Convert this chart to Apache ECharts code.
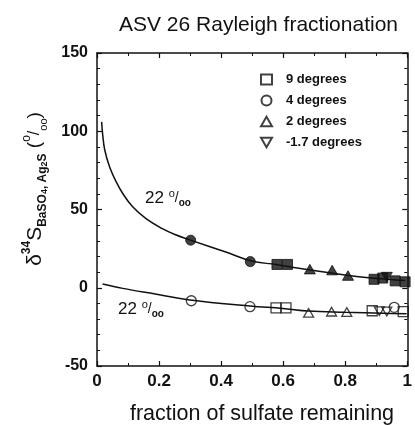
<!DOCTYPE html>
<html><head><meta charset="utf-8">
<script src="https://cdn.jsdelivr.net/npm/echarts@6/dist/echarts.min.js"></script>
<style>html,body{margin:0;padding:0;background:#fff}#c{width:415px;height:425px}</style>
</head><body><div id="c"></div>
<script>
// ---- data ----
const titleText = 'ASV 26 Rayleigh fractionation';
const xAxisTitle = 'fraction of sulfate remaining';
const legendNames = ['9 degrees', '4 degrees', '2 degrees', '-1.7 degrees'];
const xRange = [0, 1];
const yRange = [-50, 150];
const curveLabel = '22';

// Rayleigh curves (sulfate = upper, sulfide = lower)
const upperCurve = [[0.015,106],[0.018,98.5],[0.025,88],[0.041,77],[0.062,67.6],[0.083,60.2],[0.115,51.7],[0.157,44.3],[0.209,37.9],[0.251,34],[0.299,30.6],[0.42,22.5],[0.496,17.2],[0.577,14.8],[0.682,11.5],[0.81,7.8],[0.893,6],[0.993,4.6]];
const lowerCurve = [[0.018,2.4],[0.083,-0.4],[0.188,-4],[0.293,-7.6],[0.493,-11.7],[0.598,-13.2],[0.682,-14.9],[0.798,-15.7],[0.924,-16.3],[0.998,-16.6]];

// BaSO4 (filled symbols)
const sq9Filled = [[0.58,14.9],[0.614,14.9],[0.893,5.4],[0.921,6.2],[0.961,4.4],[0.993,3.8]];
const ci4Filled = [[0.302,30.4],[0.494,16.7]];
const tr2Filled = [[0.686,11.9],[0.758,11.3],[0.809,7.8]];
const inv17Filled = [[0.934,6.8]];

// Ag2S (open symbols)
const sq9Open = [[0.577,-12.8],[0.609,-12.8],[0.887,-14.7],[0.987,-15.3]];
const ci4Open = [[0.304,-8.3],[0.493,-12.1],[0.958,-12.5]];
const tr2Open = [[0.682,-16],[0.756,-15.3],[0.805,-15.5]];
const inv17Open = [[0.91,-15],[0.934,-15.2]];

// ---- chart ----
const FONT = "'Liberation Sans', Arial, Helvetica, sans-serif";
const INK = '#111';
const SYM_SQ = 'rect';
const SYM_CI = 'circle';
const SYM_TR = 'path://M5,0L10,8.66L0,8.66Z';
const SYM_INV = 'path://M0,0L10,0L5,8.66Z';

const openStyle = {color: 'rgba(0,0,0,0)', borderColor: INK, borderWidth: 1.3};
const fillStyle = {color: INK, borderColor: INK, borderWidth: 1};

function scatter(name, data, symbol, size, style) {
  return {type: 'scatter', name, data, symbol, symbolSize: size, symbolKeepAspect: true,
    itemStyle: style, z: 4, silent: true};
}
function curve(name, data) {
  return {type: 'line', name, data, smooth: 0.4, showSymbol: false, symbol: 'none',
    lineStyle: {color: INK, width: 1.5}, z: 3, silent: true};
}

const axisCommon = {
  type: 'value', splitLine: {show: false},
  axisLine: {show: true, onZero: false, lineStyle: {color: INK, width: 1.5}},
  axisTick: {show: true, inside: true, length: 5, lineStyle: {color: INK, width: 1.2}},
  minorTick: {show: true, length: 3, lineStyle: {color: INK, width: 1}},
  minorSplitLine: {show: false}
};

const option = {
  animation: false,
  backgroundColor: '#fff',
  textStyle: {fontFamily: FONT},
  title: {text: titleText, left: 114, top: 10,
    textStyle: {fontFamily: FONT, fontSize: 21, fontWeight: 'normal', color: INK}},
  grid: {left: 97, top: 53, width: 317, height: 313},
  legend: {
    data: legendNames, orient: 'vertical', left: 255, top: 67,
    itemWidth: 11, itemHeight: 10, itemGap: 6,
    textStyle: {fontFamily: FONT, fontSize: 13, fontWeight: 'bold', color: INK, padding: [0,0,0,9], lineHeight: 15},
    selectedMode: false
  },
  xAxis: [
    Object.assign({}, axisCommon, {min: xRange[0], max: xRange[1], interval: 0.2, position: 'bottom',
      minorTick: Object.assign({}, axisCommon.minorTick, {splitNumber: 2}),
      axisLabel: {margin: 7, fontFamily: FONT, fontSize: 17, fontWeight: 'bold', color: INK,
        formatter: v => String(+v.toFixed(1))}}),
    Object.assign({}, axisCommon, {min: xRange[0], max: xRange[1], interval: 0.2, position: 'top',
      minorTick: Object.assign({}, axisCommon.minorTick, {splitNumber: 2}),
      axisLabel: {show: false}})
  ],
  yAxis: [
    Object.assign({}, axisCommon, {min: yRange[0], max: yRange[1], interval: 50, position: 'left',
      minorTick: Object.assign({}, axisCommon.minorTick, {splitNumber: 5}),
      axisLabel: {margin: 9, fontFamily: FONT, fontSize: 16, fontWeight: 'bold', color: INK}}),
    Object.assign({}, axisCommon, {min: yRange[0], max: yRange[1], interval: 50, position: 'right',
      minorTick: Object.assign({}, axisCommon.minorTick, {splitNumber: 5}),
      axisLabel: {show: false}})
  ],
  series: [
    curve('upper', upperCurve),
    curve('lower', lowerCurve),
    scatter('9 degrees', sq9Open, SYM_SQ, 10, openStyle),
    scatter('4 degrees', ci4Open, SYM_CI, 10, openStyle),
    scatter('2 degrees', tr2Open, SYM_TR, 10, openStyle),
    scatter('-1.7 degrees', inv17Open, SYM_INV, 10, openStyle),
    scatter('9 degrees BaSO4', sq9Filled, SYM_SQ, 10, fillStyle),
    scatter('4 degrees BaSO4', ci4Filled, SYM_CI, 10, fillStyle),
    scatter('2 degrees BaSO4', tr2Filled, SYM_TR, 11, fillStyle),
    scatter('-1.7 degrees BaSO4', inv17Filled, SYM_INV, 11, fillStyle)
  ],
  graphic: [
    {type: 'text', x: 35, y: 189, rotation: Math.PI / 2, z: 10,
      style: {
        text: '{b|δ}{sup|34}{b|S}{sub|BaSO}{ss|4}{sub|, Ag}{ss|2}{sub|S}{p| (}{sup2|o}{p2|/}{sub2|oo}{p|)}',
        align: 'center', verticalAlign: 'middle', fill: INK, font: '20px ' + FONT,
        rich: {
          b: {fontSize: 21, fontFamily: FONT, fill: INK, lineHeight: 28, verticalAlign: 'middle'},
          sup: {fontSize: 12, fontFamily: FONT, fontWeight: 'bold', fill: INK, verticalAlign: 'top'},
          sub: {fontSize: 12, fontFamily: FONT, fontWeight: 'bold', fill: INK, verticalAlign: 'bottom'},
          ss: {fontSize: 9, fontFamily: FONT, fontWeight: 'bold', fill: INK, verticalAlign: 'bottom'},
          p: {fontSize: 19, fontFamily: FONT, fill: INK, verticalAlign: 'middle'},
          sup2: {fontSize: 12, fontFamily: FONT, fill: INK, verticalAlign: 'top'},
          p2: {fontSize: 16, fontFamily: FONT, fill: INK, verticalAlign: 'middle'},
          sub2: {fontSize: 11, fontFamily: FONT, fill: INK, verticalAlign: 'bottom'}
        }
      }},
    {type: 'text', x: 262, y: 414, z: 10,
      style: {text: xAxisTitle, align: 'center', verticalAlign: 'middle', fill: INK,
        font: '21.5px ' + FONT}},
    {type: 'text', x: 145, y: 198, z: 10,
      style: {text: '{n|' + curveLabel + ' }{sup|o}{n2|/}{sub|oo}', align: 'left', verticalAlign: 'middle', fill: INK,
        rich: {
          n: {fontSize: 17, fontFamily: FONT, fill: INK, lineHeight: 20, verticalAlign: 'middle'},
          sup: {fontSize: 11, fontFamily: FONT, fill: INK, verticalAlign: 'top'},
          n2: {fontSize: 14, fontFamily: FONT, fill: INK, verticalAlign: 'middle'},
          sub: {fontSize: 10, fontFamily: FONT, fontWeight: 'bold', fill: INK, verticalAlign: 'bottom'}
        }}},
    {type: 'text', x: 118, y: 309, z: 10,
      style: {text: '{n|' + curveLabel + ' }{sup|o}{n2|/}{sub|oo}', align: 'left', verticalAlign: 'middle', fill: INK,
        rich: {
          n: {fontSize: 17, fontFamily: FONT, fill: INK, lineHeight: 20, verticalAlign: 'middle'},
          sup: {fontSize: 11, fontFamily: FONT, fill: INK, verticalAlign: 'top'},
          n2: {fontSize: 14, fontFamily: FONT, fill: INK, verticalAlign: 'middle'},
          sub: {fontSize: 10, fontFamily: FONT, fontWeight: 'bold', fill: INK, verticalAlign: 'bottom'}
        }}}
  ]
};

const chart = echarts.init(document.getElementById('c'), null, {renderer: 'canvas'});
chart.setOption(option);
</script>
</body></html>
